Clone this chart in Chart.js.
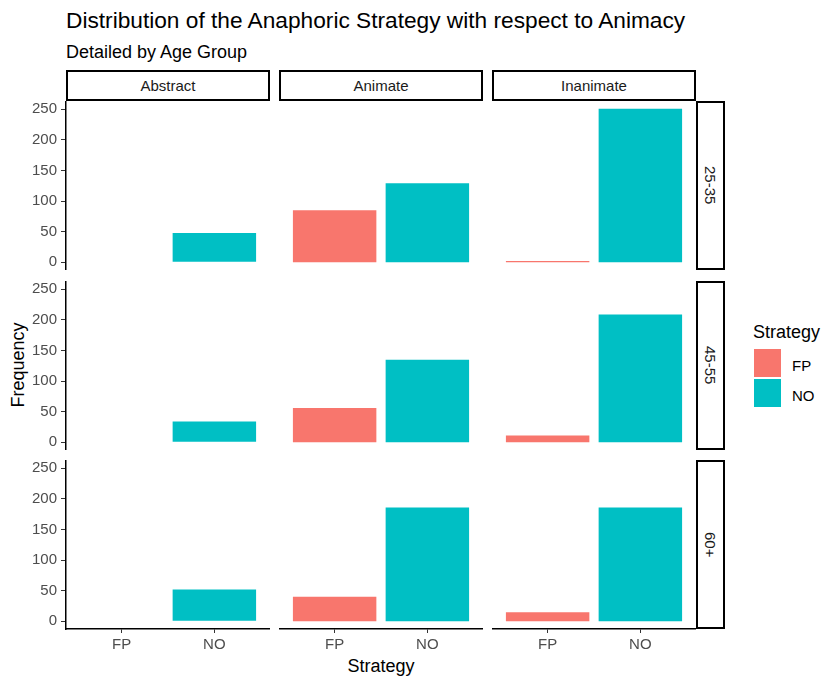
<!DOCTYPE html>
<html>
<head>
<meta charset="utf-8">
<script src="https://cdn.jsdelivr.net/npm/chart.js@4.4.1/dist/chart.umd.min.js"></script>
<style>
  body { margin: 0; background: #fff; font-family: "Liberation Sans", Arial, sans-serif; }
  #wrap { position: relative; width: 823px; height: 677px; overflow: hidden; }
  .txt { position: absolute; white-space: nowrap; line-height: 1; }
  .strip { position: absolute; box-sizing: border-box; border: 2px solid #000; background: #fff;
           display: flex; align-items: center; justify-content: center; font-size: 15px; color: #1a1a1a; }
  .vstrip span { writing-mode: vertical-rl; }
  canvas { position: absolute; }
  .key { position: absolute; width: 27px; height: 28px; }
</style>
</head>
<body>
<div id="wrap">
  <div class="txt" style="left:66px; top:9px; font-size:22.7px; color:#000;">Distribution of the Anaphoric Strategy with respect to Animacy</div>
  <div class="txt" style="left:66px; top:43px; font-size:18px; color:#000;">Detailed by Age Group</div>
  <div class="txt" id="ytitle" style="font-size:18px; color:#000;">Frequency</div>
  <div class="txt" id="xtitle" style="font-size:18px; color:#000;">Strategy</div>

  <div class="txt" style="left:753px; top:323px; font-size:18px; color:#000;">Strategy</div>
  <div class="key" id="keyFP" style="left:754px; top:349px;"></div>
  <div class="key" id="keyNO" style="left:754px; top:379px;"></div>
  <div class="txt" style="left:792px; top:358px; font-size:15px; color:#000;">FP</div>
  <div class="txt" style="left:792px; top:388px; font-size:15px; color:#000;">NO</div>
</div>

<script>
// Facet layout: columns = animacy, rows = age group
const animacy = ['Abstract', 'Animate', 'Inanimate'];
const ageGroups = ['25-35', '45-55', '60+'];
const strategies = ['FP', 'NO'];

// counts per animacy (Abstract, Animate, Inanimate); null = no bar
const fp_25_35 = [null, 85, 2];
const no_25_35 = [48, 129, 251];
const fp_45_55 = [null, 56, 11];
const no_45_55 = [34, 135, 209];
const fp_60 = [null, 40, 15];
const no_60 = [52, 186, 186];

const yTicks = [0, 50, 100, 150, 200, 250];

const FP_COLOR = '#F8766D';
const NO_COLOR = '#00BFC4';

const fpByAge = [fp_25_35, fp_45_55, fp_60];
const noByAge = [no_25_35, no_45_55, no_60];

// panel geometry
const COL_LEFT = [66, 279, 492];
const ROW_TOP = [101, 281, 460];
const PANEL_W = 204;
const PANEL_H = 169;
const AXIS_W = 66;
const AXIS_H = 45;

// shared y range, ggplot-style 5% expansion
const allVals = [].concat(...fpByAge, ...noByAge).filter((v) => v != null);
const yMax = Math.max(...allVals);
const Y_MIN = -0.05 * yMax;
const Y_MAX = 1.05 * yMax;

const wrap = document.getElementById('wrap');
document.getElementById('keyFP').style.background = FP_COLOR;
document.getElementById('keyNO').style.background = NO_COLOR;

function addStrip(label, left, top, w, h, vertical) {
  const d = document.createElement('div');
  d.className = 'strip' + (vertical ? ' vstrip' : '');
  d.style.left = left + 'px';
  d.style.top = top + 'px';
  d.style.width = w + 'px';
  d.style.height = h + 'px';
  const s = document.createElement('span');
  s.textContent = label;
  d.appendChild(s);
  wrap.appendChild(d);
}

animacy.forEach((a, c) => addStrip(a, COL_LEFT[c], 70, PANEL_W, 31, false));
ageGroups.forEach((g, r) => addStrip(g, 696, ROW_TOP[r], 29, PANEL_H, true));

// no label-overflow padding: panels must keep their exact size
function noPadding(s) {
  s.paddingTop = 0;
  s.paddingBottom = 0;
  s.paddingLeft = 0;
  s.paddingRight = 0;
}

function panelChart(row, col) {
  const isLeft = col === 0;
  const isBottom = row === ageGroups.length - 1;
  const canvas = document.createElement('canvas');
  const w = PANEL_W + (isLeft ? AXIS_W : 0);
  const h = PANEL_H + (isBottom ? AXIS_H : 0);
  canvas.width = w;
  canvas.height = h;
  canvas.style.left = (isLeft ? 0 : COL_LEFT[col]) + 'px';
  canvas.style.top = ROW_TOP[row] + 'px';
  wrap.appendChild(canvas);

  const values = [fpByAge[row][col], noByAge[row][col]];

  new Chart(canvas.getContext('2d'), {
    type: 'bar',
    data: {
      datasets: [
        {
          data: strategies.map((s, i) => ({ x: i + 1, y: values[i] })),
          backgroundColor: [FP_COLOR, NO_COLOR],
          borderWidth: 0,
          categoryPercentage: 1,
          barPercentage: 0.9,
        },
      ],
    },
    options: {
      responsive: false,
      animation: false,
      events: [],
      layout: { padding: 0 },
      plugins: { legend: { display: false }, tooltip: { enabled: false } },
      scales: {
        x: {
          type: 'linear',
          min: 0.4,
          max: 2.6,
          offset: false,
          display: isBottom,
          afterBuildTicks: (s) => {
            s.ticks = strategies.map((_, i) => ({ value: i + 1 }));
          },
          afterFit: (s) => {
            noPadding(s);
            if (isBottom) s.height = AXIS_H;
          },
          ticks: {
            callback: (v) => strategies[Math.round(v) - 1],
            color: '#4d4d4d',
            font: { family: '"Liberation Sans", Arial, sans-serif', size: 15 },
            padding: 3,
            maxRotation: 0,
            autoSkip: false,
          },
          grid: { drawOnChartArea: false, offset: false, tickLength: 4, color: '#333333' },
          border: { color: '#000', width: 1.5 },
        },
        y: {
          min: Y_MIN,
          max: Y_MAX,
          display: isLeft,
          afterBuildTicks: (s) => {
            s.ticks = yTicks.map((v) => ({ value: v }));
          },
          afterFit: (s) => {
            noPadding(s);
            if (isLeft) s.width = AXIS_W;
          },
          ticks: {
            color: '#4d4d4d',
            font: { family: '"Liberation Sans", Arial, sans-serif', size: 15 },
            padding: 4,
            autoSkip: false,
          },
          grid: { drawOnChartArea: false, tickLength: 5, color: '#333333' },
          border: { color: '#000', width: 1.5 },
        },
      },
    },
  });
}

for (let r = 0; r < ageGroups.length; r++) {
  for (let c = 0; c < animacy.length; c++) {
    panelChart(r, c);
  }
}

// axis titles spanning all panels
const yt = document.getElementById('ytitle');
yt.style.left = '18px';
yt.style.top = ((ROW_TOP[0] + ROW_TOP[2] + PANEL_H) / 2) + 'px';
yt.style.transform = 'translate(-50%, -50%) rotate(-90deg)';
const xt = document.getElementById('xtitle');
xt.style.left = ((COL_LEFT[0] + COL_LEFT[2] + PANEL_W) / 2) + 'px';
xt.style.top = '657px';
xt.style.transform = 'translateX(-50%)';
</script>
</body>
</html>
